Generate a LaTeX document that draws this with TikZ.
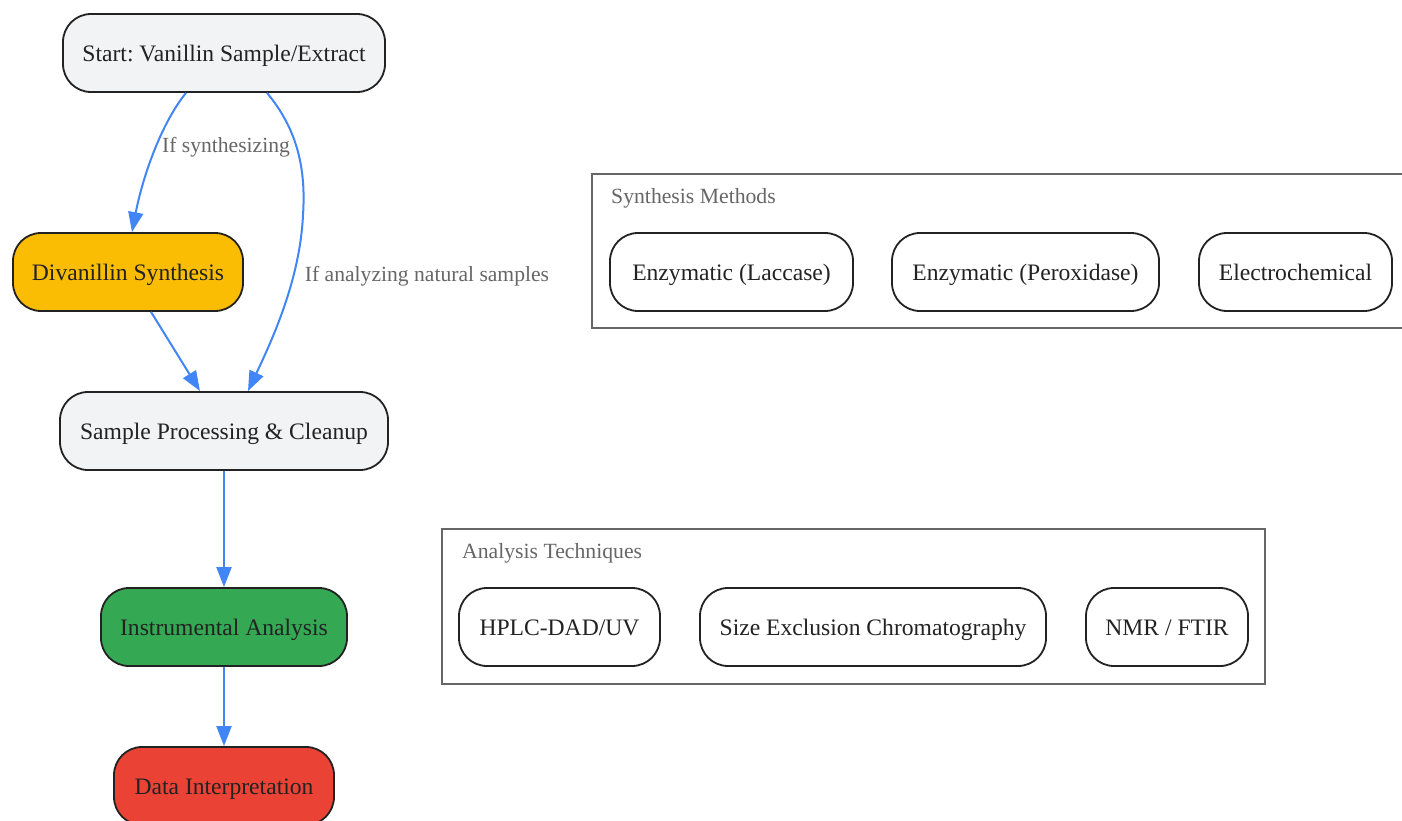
\documentclass[tikz,border=0pt]{standalone}
\usepackage{fontspec}
\setmainfont{Liberation Serif}
\usetikzlibrary{arrows.meta}
\frenchspacing
\definecolor{nodegrey}{HTML}{F1F3F4}
\definecolor{nodeyellow}{HTML}{FBBC04}
\definecolor{nodegreen}{HTML}{34A853}
\definecolor{nodered}{HTML}{EA4335}
\definecolor{edgeblue}{HTML}{4285F4}
\definecolor{labelgrey}{HTML}{666666}
\definecolor{borderdark}{HTML}{222222}
\definecolor{clustergrey}{HTML}{666666}
\tikzset{
  box/.style={draw=borderdark, line width=1.8pt, rounded corners=28pt, inner sep=0pt,
    minimum height=78pt, text height=19pt, text depth=2pt, text=borderdark,
    font=\fontsize{23.6pt}{26pt}\selectfont},
  cluster/.style={draw=clustergrey, line width=1.8pt},
  clusterlabel/.style={anchor=west, text=labelgrey, inner sep=0pt, font=\fontsize{21.7pt}{24pt}\selectfont},
  edgelabel/.style={text=labelgrey, inner sep=0pt, font=\fontsize{21.6pt}{24pt}\selectfont},
  flow/.style={draw=edgeblue, line width=2pt, -{Triangle[length=20pt,width=15pt]}},
}
\begin{document}
\begin{tikzpicture}[x=1pt,y=-1pt]
\useasboundingbox (0,0) rectangle (1402,821);
% clusters
\draw[cluster] (592,174) rectangle (1430,328);
\node[clusterlabel] (synlab) at (611,198) {Synthesis Methods};
\draw[cluster] (442,529) rectangle (1265,684);
\node[clusterlabel] (analab) at (462,553) {Analysis Techniques};
% main flow
\node[box, fill=nodegrey, minimum width=322pt] (start) at (224,53) {Start: Vanillin Sample/Extract};
\node[box, fill=nodeyellow, minimum width=230pt] (div) at (128,272) {Divanillin Synthesis};
\node[box, fill=nodegrey, minimum width=328pt] (proc) at (224,431) {Sample Processing \& Cleanup};
\node[box, fill=nodegreen, minimum width=246pt] (instr) at (224,627) {Instrumental Analysis};
\node[box, fill=nodered, minimum width=220pt] (data) at (224,786) {Data Interpretation};
% synthesis methods
\node[box, fill=white, minimum width=243pt] (lac) at (731.5,272) {Enzymatic (Laccase)};
\node[box, fill=white, minimum width=267pt] (per) at (1025.5,272) {Enzymatic (Peroxidase)};
\node[box, fill=white, minimum width=193pt] (ele) at (1295.5,272) {Electrochemical};
% analysis techniques
\node[box, fill=white, minimum width=201pt] (hplc) at (559.5,627) {HPLC-DAD/UV};
\node[box, fill=white, minimum width=346pt] (sec) at (873,627) {Size Exclusion Chromatography};
\node[box, fill=white, minimum width=162pt] (nmr) at (1167,627) {NMR / FTIR};
% edges
\coordinate (mid2) at (303,215);
\draw[flow] ([xshift=-38pt]start.south) .. controls (160,125) and (142,180) .. ([xshift=4pt]div.north);
\draw[flow] ([xshift=43pt]start.south) .. controls (298,130) and (306,170) .. (mid2)
  .. controls (300,280) and (272,340) .. ([xshift=24pt]proc.north);
\draw[flow] ([xshift=23pt]div.south) -- ([xshift=-24pt]proc.north);
\draw[flow] (proc.south) -- (instr.north);
\draw[flow] (instr.south) -- (data.north);
\node[edgelabel] (lab1) at (226,147) {If synthesizing};
\node[edgelabel] (lab2) at (427,276) {If analyzing natural samples};
\end{tikzpicture}
\end{document}
